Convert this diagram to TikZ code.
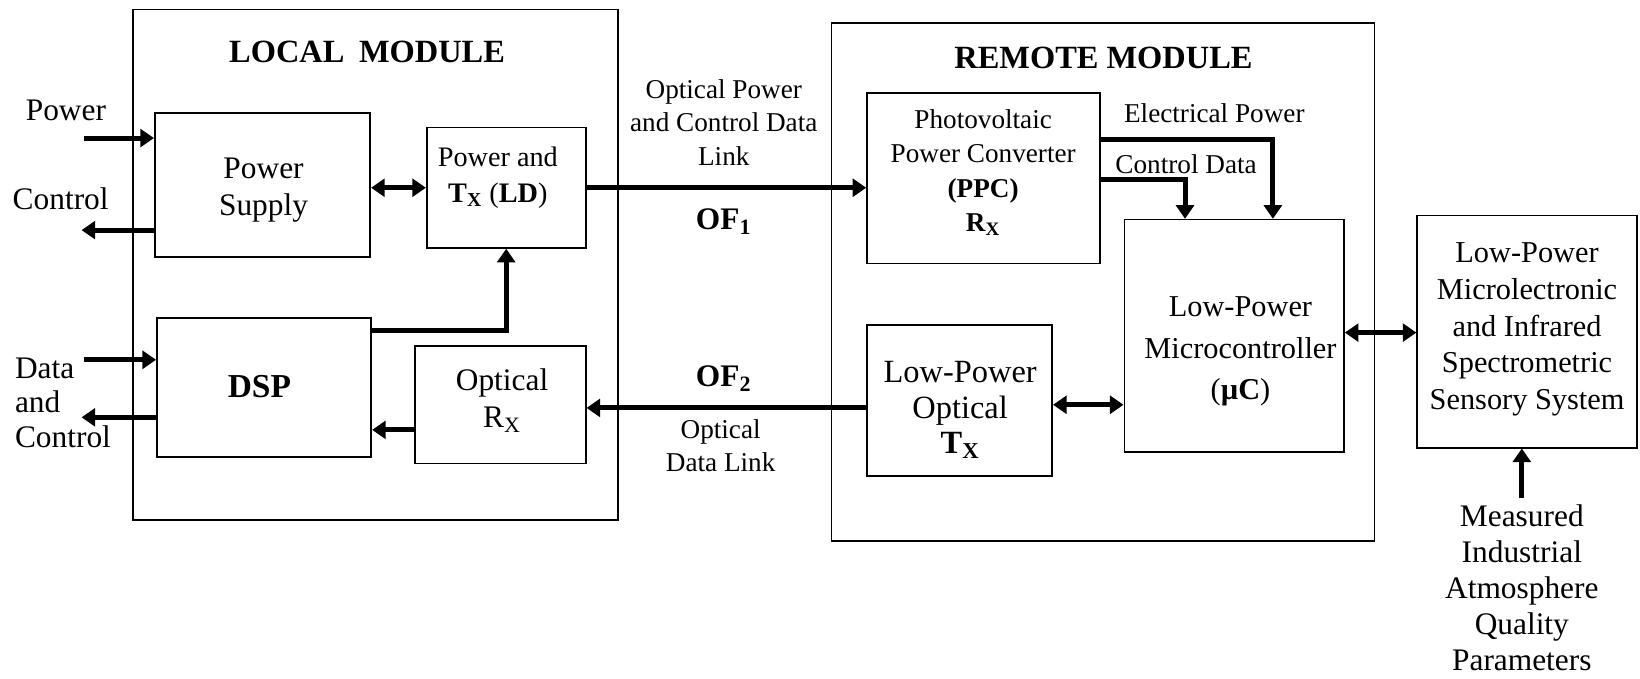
\documentclass[tikz,border=0pt]{standalone}
\usepackage{fontspec}
\setmainfont{Liberation Serif}
\usetikzlibrary{arrows.meta,fit}

\tikzset{
  frame/.style={draw, line width=0.8pt, inner sep=0pt},
  blk/.style={draw, line width=0.8pt, inner sep=0pt},
  txt/.style={align=center, inner sep=0pt, font=\fontsize{15}{17.5}\selectfont},
  stxt/.style={align=center, inner sep=0pt, font=\fontsize{13}{16}\selectfont},
  hd/.tip={Triangle[length=6.5pt, width=8.5pt]},
  flow/.style={line width=2.4pt, -{hd}},
  both/.style={line width=2.4pt, {hd}-{hd}},
}

\begin{document}
\begin{tikzpicture}[x=0.5pt,y=-0.5pt]
\useasboundingbox (0,0) rectangle (1568,649);

% module frames and titles
\node[frame, fit={(127,9)(591,497)}] (local) {};
\node[frame, fit={(795,22)(1314,517)}] (remote) {};
\node[txt, font=\bfseries\fontsize{15.5}{18}\selectfont] (local-t) at (351,50) {LOCAL\hspace{0.45em}MODULE};
\node[txt, font=\bfseries\fontsize{15.5}{18}\selectfont] (remote-t) at (1055,55) {REMOTE MODULE};

% functional blocks
\node[blk, fit={(148,108)(354,246)}] (ps) {};
\node[blk, fit={(408,122)(560,237)}] (tx) {};
\node[blk, fit={(150,304)(355,437)}] (dsp) {};
\node[blk, fit={(397,331)(560,443)}] (orx) {};
\node[blk, fit={(829,89)(1052,252)}] (ppc) {};
\node[blk, fit={(829,311)(1006,455)}] (otx) {};
\node[blk, fit={(1075,210)(1285,432)}] (mc) {};
\node[blk, fit={(1355,206)(1565,428)}] (sen) {};

% block captions
\node[txt] (ps-t) at (252,182) {Power\\Supply};
\node[stxt, font=\fontsize{13.5}{17}\selectfont] (tx-t) at (476,170) {Power and\\\textbf{T\textsubscript{X}} (\textbf{LD})};
\node[txt, font=\bfseries\fontsize{16}{18}\selectfont] (dsp-t) at (248,370) {DSP};
\node[txt] (orx-t) at (480,383) {Optical\\R\textsubscript{X}};
\node[stxt, font=\fontsize{13}{16.5}\selectfont] (ppc-t) at (940,165) {Photovoltaic\\Power Converter\\\textbf{(PPC)}\\\textbf{R\textsubscript{X}}};
\node[txt, font=\fontsize{15.5}{17}\selectfont] (otx-t) at (918,392) {Low-Power\\Optical\\\textbf{T\textsubscript{X}}};
\node[txt, font=\fontsize{14.5}{20}\selectfont] (mc-t) at (1186,336) {Low-Power\\Microcontroller\\(\textbf{µC})};
\node[txt, font=\fontsize{14.5}{17.5}\selectfont] (sen-t) at (1460,315) {Low-Power\\Microlectronic\\and Infrared\\Spectrometric\\Sensory System};

% external and link labels
\node[txt] (pw-l) at (63,106) {Power};
\node[txt] (ct-l) at (58,190) {Control};
\node[txt, align=left, font=\fontsize{15}{16.5}\selectfont, anchor=west] (dc-l) at (14,385) {Data\\and\\Control};
\node[stxt] (of1-l) at (692,117) {Optical Power\\and Control Data\\Link};
\node[txt, font=\bfseries\fontsize{15}{17}\selectfont] (of1) at (692,212) {OF\textsubscript{1}};
\node[txt, font=\bfseries\fontsize{15}{17}\selectfont] (of2) at (692,362) {OF\textsubscript{2}};
\node[stxt] (of2-l) at (689,426) {Optical\\Data Link};
\node[stxt] (ep-l) at (1161,108) {Electrical Power};
\node[stxt] (cd-l) at (1134,157) {Control Data};
\node[txt, font=\fontsize{15}{17.2}\selectfont] (meas) at (1455,562) {Measured\\Industrial\\Atmosphere\\Quality\\Parameters};

% helper coordinates for connector rows and columns
\coordinate (pw-in) at (80,132);
\coordinate (ct-out) at (78,220);
\coordinate (d-in) at (80,344);
\coordinate (c-out) at (78,399);
\coordinate (dsp-tx) at (484,316);
\coordinate (y-rd) at (0,411);
\coordinate (y-of2) at (0,390);
\coordinate (y-om) at (0,387);
\coordinate (y-ep) at (0,133);
\coordinate (y-cd) at (0,172);
\coordinate (x-ep) at (1217,0);
\coordinate (x-cd) at (1133,0);
\coordinate (y-ms) at (0,318);

% connectors
\draw[flow] (pw-in) -- (ps.west |- pw-in);
\draw[flow] (ps.west |- ct-out) -- (ct-out);
\draw[both] (tx.west -| ps.east) -- (tx.west);
\draw[flow] (tx.east) -- (ppc.west |- tx.east);
\draw[flow] (dsp.east |- dsp-tx) -- (dsp-tx) -- (tx.south);
\draw[flow] (d-in) -- (dsp.west |- d-in);
\draw[flow] (dsp.west |- c-out) -- (c-out);
\draw[flow] (orx.west |- y-rd) -- (dsp.east |- y-rd);
\draw[flow] (otx.west |- y-of2) -- (orx.east |- y-of2);
\draw[both] (otx.east |- y-om) -- (mc.west |- y-om);
\draw[flow] (ppc.east |- y-ep) -| (mc.north -| x-ep);
\draw[flow] (ppc.east |- y-cd) -| (mc.north -| x-cd);
\draw[both] (mc.east |- y-ms) -- (sen.west |- y-ms);
\draw[flow] ([yshift=3pt]meas.north) -- (sen.south -| meas.north);
\end{tikzpicture}
\end{document}
